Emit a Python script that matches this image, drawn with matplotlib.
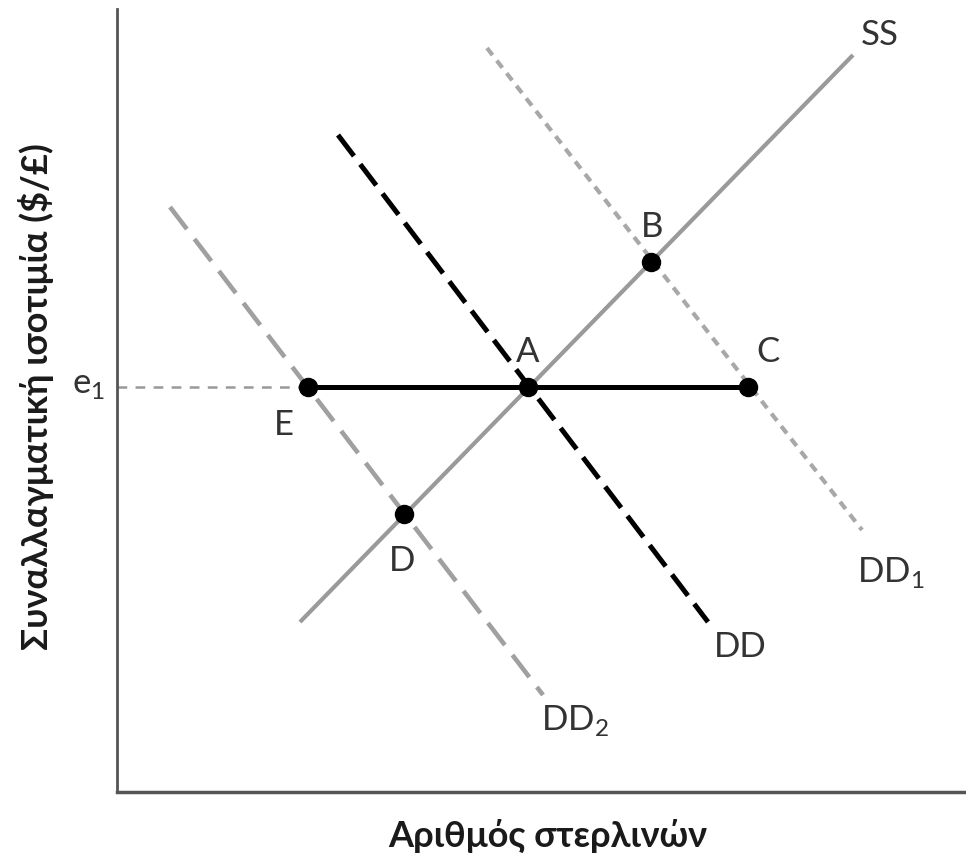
import matplotlib.pyplot as plt

plt.rcParams['font.family'] = ['Lato', 'DejaVu Sans']
plt.rcParams['lines.scale_dashes'] = False
plt.rcParams['mathtext.fontset'] = 'custom'
plt.rcParams['mathtext.rm'] = 'Lato'

# curve end points (x = quantity, y = exchange rate), arbitrary units
ss_x = [183, 736]
ss_y = [170, 737]
dd_x = [221, 591]
dd_y = [657, 170]
dd1_x = [370, 745]
dd1_y = [744, 262]
dd2_x = [53, 426]
dd2_y = [585, 97]

# equilibrium points
pt_names = ['A', 'B', 'C', 'D', 'E']
pt_x = [411, 534, 631, 287, 191]
pt_y = [405, 530, 405, 278, 405]
e1 = 405

grey = '#a0a0a0'
txt = '#333333'

fig = plt.figure(figsize=(9.66, 8.64), dpi=100)
ax = fig.add_axes([117 / 966, 72 / 864, 849 / 966, 783 / 864])
ax.set_xlim(0, 849)
ax.set_ylim(0, 783)

ax.plot(ss_x, ss_y, color='#9a9a9a', lw=3, solid_capstyle='butt')
ax.plot(dd1_x, dd1_y, color='#a8a8a8', lw=3, dashes=(6.5, 5))
ax.plot(dd2_x, dd2_y, color=grey, lw=3.3, dashes=(20, 9))
ax.plot(dd_x, dd_y, color='black', lw=3.6, dashes=(19, 7.5))

# e1 guide and horizontal segment E-C
ax.plot([0, pt_x[4]], [e1, e1], color='#999999', lw=1.8, dashes=(7, 6))
ax.plot([pt_x[4], pt_x[2]], [e1, e1], color='black', lw=3.6)

ax.plot(pt_x, pt_y, 'o', color='black', ms=13, zorder=5)

fs = 25
lab = dict(fontsize=fs, color=txt, ha='center', va='center')
ax.text(411, 440, 'A', **lab)
ax.text(535, 565, 'B', **lab)
ax.text(651, 440, 'C', **lab)
ax.text(285, 231, 'D', **lab)
ax.text(167, 367, 'E', **lab)
ax.text(763, 757, 'SS', **lab)
ax.text(623, 145, 'DD', **lab)
ax.text(774, 220, r'DD$_\mathregular{1}$', **lab)
ax.text(458, 72, r'DD$_\mathregular{2}$', **lab)
ax.text(-12, e1 + 2, r'e$_\mathregular{1}$', fontsize=fs, color=txt,
        ha='right', va='center')

for s in ['top', 'right']:
    ax.spines[s].set_visible(False)
ax.spines['left'].set_color('#555555')
ax.spines['left'].set_linewidth(2)
ax.spines['bottom'].set_color('#555555')
ax.spines['bottom'].set_linewidth(2.5)
ax.set_xticks([])
ax.set_yticks([])

fig.text(548 / 966, 1 - 836 / 864, 'Αριθμός στερλινών', fontsize=26,
         fontweight='bold', color='#1a1a1a', ha='center', va='center')
fig.text(36 / 966, 1 - 397 / 864, 'Συναλλαγματική ισοτιμία ($/£)', fontsize=26,
         fontweight='bold', color='#1a1a1a', ha='center', va='center',
         rotation=90)

fig.savefig('out.png', dpi=100)
